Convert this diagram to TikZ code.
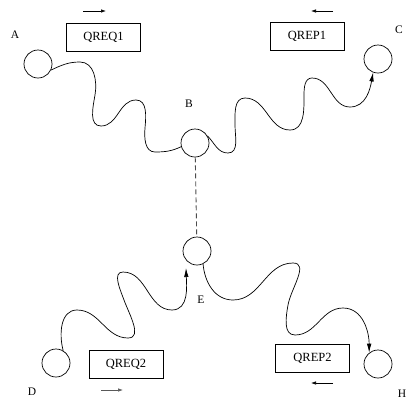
\documentclass[tikz,border=0pt]{standalone}
\usepackage{fontspec}
\setmainfont{Liberation Serif}
\usetikzlibrary{arrows.meta}
\begin{document}
\begin{tikzpicture}[x=1pt,y=1pt,
  site/.style={circle,draw,minimum size=28pt,inner sep=0pt,line width=0.7pt},
  queue/.style={draw,minimum width=74pt,minimum height=28pt,inner sep=0pt,line width=0.7pt,font=\fontsize{12.5}{14}\selectfont},
  lbl/.style={font=\fontsize{11.5}{13}\selectfont,inner sep=0pt},
  wave/.style={line width=0.7pt},
  wavetip/.style={wave,-{Latex[length=9pt,width=4.5pt]}},
  dirarrow/.style={line width=0.7pt,-{Latex[length=5pt,width=3.5pt]}}]
\useasboundingbox (0,0) rectangle (407,-405);
% sites
\node[site] (A) at (38,-64) {};
\node[site] (B) at (195,-143) {};
\node[site] (C) at (378,-59) {};
\node[site] (E) at (197,-251) {};
\node[site] (D) at (56,-363) {};
\node[site] (H) at (378,-364) {};
% labels
\node[lbl] (lA) at (15,-35) {A};
\node[lbl] (lB) at (189,-104) {B};
\node[lbl] (lC) at (399,-30) {C};
\node[lbl] (lD) at (32,-392) {D};
\node[lbl] (lE) at (201,-300) {E};
\node[lbl] (lH) at (402,-394) {H};
% queues
\node[queue] (q1) at (103.5,-37) {QREQ1};
\node[queue] (p1) at (307,-36.5) {QREP1};
\node[queue] (q2) at (126,-364) {QREQ2};
\node[queue] (p2) at (312.5,-358.5) {QREP2};
% direction arrows
\coordinate (a1s) at (83,-11); \coordinate (a1e) at (106,-11);
\coordinate (a2s) at (333,-11); \coordinate (a2e) at (311,-11);
\coordinate (a3s) at (101,-390); \coordinate (a3e) at (123,-390);
\coordinate (a4s) at (333,-383); \coordinate (a4e) at (311,-383);
\draw[dirarrow] (a1s) -- (a1e);
\draw[dirarrow] (a2s) -- (a2e);
\draw[dirarrow,draw=gray!70!black,fill=black] (a3s) -- (a3e);
\draw[dirarrow] (a4s) -- (a4e);
% dashed link
\draw[draw=gray!60!black,line width=0.9pt,dash pattern=on 5pt off 3pt] (B) -- (E);
% A -> B
\draw[wave] (A.-25) to[out=25,in=180] (80,-62)
  to[out=0,in=80] (95,-95)
  to[out=260,in=180] (101,-126)
  to[out=0,in=180] (136,-100)
  to[out=0,in=85] (145,-128)
  to[out=265,in=180] (155,-152)
  to[out=0,in=205] (B.195);
% B -> C
\draw[wavetip] (B.30) to[out=-45,in=180] (228,-153)
  to[out=0,in=-90] (235,-125)
  to[out=90,in=180] (245,-98)
  to[out=0,in=180] (290,-130)
  to[out=0,in=-90] (304,-95)
  to[out=90,in=180] (312,-78)
  to[out=0,in=180] (350,-107)
  to[out=0,in=-100] (C.-110);
% D -> E
\draw[wavetip] (D.60) to[out=105,in=180] (77,-310)
  to[out=0,in=180] (128,-338)
  to[out=0,in=-70] (124,-300)
  to[out=110,in=180] (123,-272)
  to[out=0,in=180] (172,-310)
  to[out=0,in=-88] (186,-268);
% E -> H
\draw[wavetip] (E.-65) to[out=-85,in=180] (233,-300)
  to[out=0,in=180] (293,-263)
  to[out=0,in=80] (288,-305)
  to[out=260,in=180] (295,-335)
  to[out=0,in=180] (343,-308)
  to[out=0,in=90] (H.128);
\end{tikzpicture}
\end{document}
